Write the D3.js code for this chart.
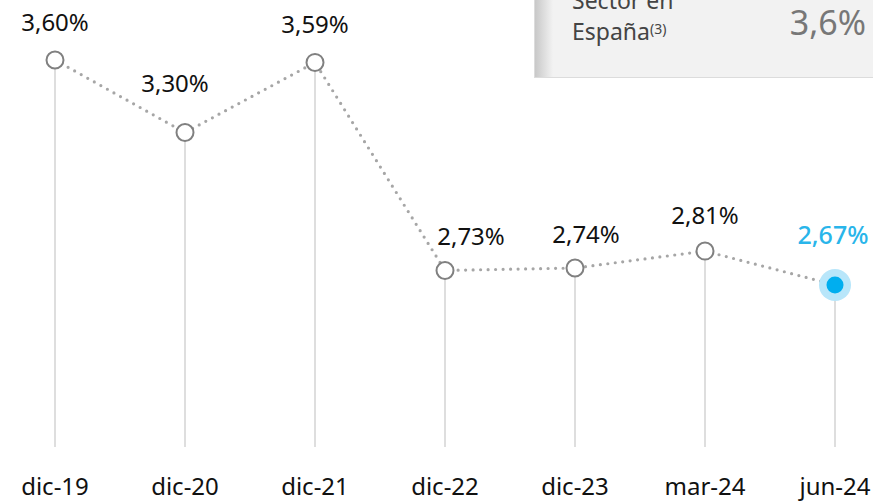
<!DOCTYPE html>
<html>
<head>
<meta charset="utf-8">
<script src="https://cdn.jsdelivr.net/npm/d3@7"></script>
<style>
  body { margin: 0; background: #fff; }
  svg { display: block; font-family: "Noto Sans", "Open Sans", sans-serif; }
</style>
</head>
<body>
<div id="chart"></div>
<script>
// data
var periods = ["dic-19", "dic-20", "dic-21", "dic-22", "dic-23", "mar-24", "jun-24"];
var ratios = [3.60, 3.30, 3.59, 2.73, 2.74, 2.81, 2.67];
var labels = ["3,60%", "3,30%", "3,59%", "2,73%", "2,74%", "2,81%", "2,67%"];
var sectorLines = ["Sector en", "España"];
var sectorValue = "3,6%";

var width = 873, height = 501;

var svg = d3.select("#chart").append("svg")
  .attr("width", width)
  .attr("height", height);

// scales
var x = d3.scalePoint()
  .domain(periods)
  .range([55, 835]);

var y = d3.scaleLinear()
  .domain([2.0, 3.6])
  .range([447, 60]);

// gradient for the box shadow on the left
var defs = svg.append("defs");
var grad = defs.append("linearGradient").attr("id", "boxShade");
grad.append("stop").attr("offset", "0%").attr("stop-color", "#c8c8c8");
grad.append("stop").attr("offset", "100%").attr("stop-color", "#f2f2f2");

// sector box top right
var box = svg.append("g");
box.append("rect")
  .attr("x", 534).attr("y", -2)
  .attr("width", 345).attr("height", 80)
  .attr("fill", "#dcdcdc");
box.append("rect")
  .attr("x", 535).attr("y", -2)
  .attr("width", 345).attr("height", 79)
  .attr("fill", "#f2f2f2");
box.append("rect")
  .attr("x", 535).attr("y", -2)
  .attr("width", 18).attr("height", 79)
  .attr("fill", "url(#boxShade)");
box.append("text")
  .attr("x", 572).attr("y", 9)
  .attr("font-size", 23)
  .attr("fill", "#444")
  .text(sectorLines[0]);
var t2 = box.append("text")
  .attr("x", 572).attr("y", 40)
  .attr("font-size", 23)
  .attr("fill", "#444")
  .text(sectorLines[1]);
t2.append("tspan")
  .attr("font-size", 14)
  .attr("dy", -6)
  .text("(3)");
box.append("text")
  .attr("x", 866).attr("y", 35)
  .attr("text-anchor", "end")
  .attr("font-size", 34)
  .attr("fill", "#777")
  .text(sectorValue);

// vertical drop lines
svg.selectAll(".drop")
  .data(ratios)
  .enter()
  .append("line")
  .attr("class", "drop")
  .attr("x1", function(d, i) { return x(periods[i]); })
  .attr("x2", function(d, i) { return x(periods[i]); })
  .attr("y1", function(d) { return y(d); })
  .attr("y2", y(2.0))
  .attr("stroke", "#dedede")
  .attr("stroke-width", 2);

// dotted line
var line = d3.line()
  .x(function(d, i) { return x(periods[i]); })
  .y(function(d) { return y(d); });

svg.append("path")
  .datum(ratios)
  .attr("d", line)
  .attr("fill", "none")
  .attr("stroke", "#a6a6a6")
  .attr("stroke-width", 3.2)
  .attr("stroke-linecap", "round")
  .attr("stroke-dasharray", "0 7.5");

// markers
var last = ratios.length - 1;
svg.selectAll(".pt")
  .data(ratios.slice(0, last))
  .enter()
  .append("circle")
  .attr("class", "pt")
  .attr("cx", function(d, i) { return x(periods[i]); })
  .attr("cy", function(d) { return y(d); })
  .attr("r", 8.5)
  .attr("fill", "#fff")
  .attr("stroke", "#808080")
  .attr("stroke-width", 2);

svg.append("circle")
  .attr("cx", x(periods[last]))
  .attr("cy", y(ratios[last]))
  .attr("r", 16)
  .attr("fill", "#b8e6fa");
svg.append("circle")
  .attr("cx", x(periods[last]))
  .attr("cy", y(ratios[last]))
  .attr("r", 8.5)
  .attr("fill", "#00aeef");

// value labels
var labelDx = [0, -10, 0, 26, 11, 0, -2];
var labelDy = [-29, -41, -29, -25, -25, -27, -41];
svg.selectAll(".val")
  .data(labels)
  .enter()
  .append("text")
  .attr("class", "val")
  .attr("x", function(d, i) { return x(periods[i]) + labelDx[i]; })
  .attr("y", function(d, i) { return y(ratios[i]) + labelDy[i]; })
  .attr("text-anchor", "middle")
  .attr("font-size", function(d, i) { return i === last ? 25 : 24; })
  .attr("fill", function(d, i) { return i === last ? "#29b5ea" : "#111"; })
  .attr("font-weight", function(d, i) { return i === last ? 500 : 400; })
  .text(function(d) { return d; });

// x axis labels
svg.selectAll(".cat")
  .data(periods)
  .enter()
  .append("text")
  .attr("class", "cat")
  .attr("x", function(d) { return x(d); })
  .attr("y", 495)
  .attr("text-anchor", "middle")
  .attr("font-size", 24)
  .attr("fill", "#111")
  .text(function(d) { return d; });
</script>
</body>
</html>
